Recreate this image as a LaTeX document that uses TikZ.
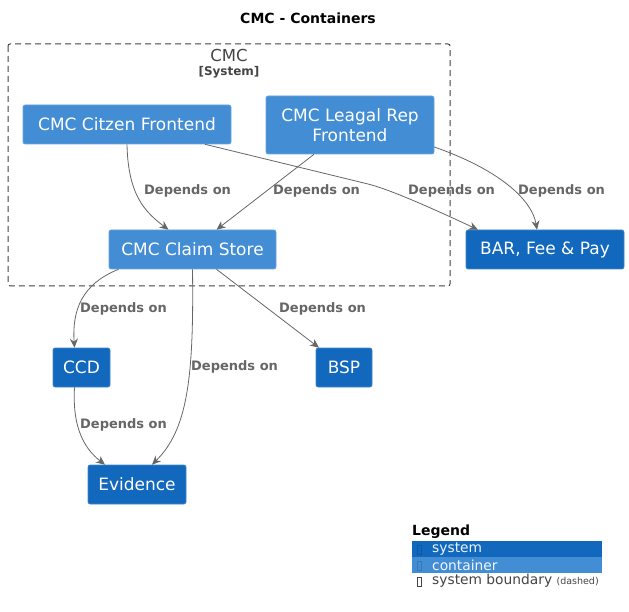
\documentclass[tikz,border=0pt]{standalone}
\usepackage{fontspec}
\setmainfont{DejaVu Sans}
\usetikzlibrary{arrows.meta}
\definecolor{cont}{HTML}{438DD5}
\definecolor{sys}{HTML}{1168BD}
\definecolor{edgec}{HTML}{666666}
\definecolor{txtc}{HTML}{444444}
\begin{document}
\begin{tikzpicture}[x=1pt,y=-1pt,
  box/.style={rounded corners=2pt, text=white, font=\fontsize{17}{20}\selectfont, align=center, inner sep=0pt, line width=0.6pt},
  contbox/.style={box, fill=cont, draw=cont!80!white},
  sysbox/.style={box, fill=sys, draw=sys!80!white},
  rel/.style={draw=edgec, line width=0.8pt, -{Stealth[length=9pt,width=8pt]}},
  lbl/.style={anchor=west, text=edgec, font=\bfseries\fontsize{13}{15}\selectfont, inner sep=0pt},
  legtxt/.style={anchor=west, font=\fontsize{13.8}{16}\selectfont, inner sep=0pt}]
\useasboundingbox (0,0) rectangle (629,612);
\node[font=\bfseries\fontsize{14}{16}\selectfont] (title) at (308,18) {CMC - Containers};
% boundary
\draw[dash pattern=on 6pt off 4pt, draw=black!75, line width=1pt, rounded corners=2pt] (8,44) rectangle (450,286);
\node[text=txtc, font=\fontsize{16.5}{18}\selectfont] (bname) at (229,55) {CMC};
\node[text=txtc, font=\bfseries\fontsize{12}{14}\selectfont] (btype) at (229,72) {[System]};
% nodes
\node[contbox, minimum width=208pt, minimum height=39pt] (cit) at (127,124.5) {CMC Citzen Frontend};
\node[contbox, minimum width=168pt, minimum height=58pt] (leg) at (350,125) {CMC Leagal Rep\\Frontend};
\node[contbox, minimum width=167pt, minimum height=39pt] (cs) at (192.5,249.5) {CMC Claim Store};
\node[sysbox, minimum width=158pt, minimum height=39pt] (bar) at (545,249.5) {BAR, Fee \& Pay};
\node[sysbox, minimum width=57pt, minimum height=39pt] (ccd) at (81.5,367.5) {CCD};
\node[sysbox, minimum width=56pt, minimum height=39pt] (bsp) at (344,367.5) {BSP};
\node[sysbox, minimum width=98pt, minimum height=39pt] (ev) at (137,484.5) {Evidence};
% edges
\draw[rel] (cit.south) .. controls (128,195) and (145,212) .. ([xshift=-24pt]cs.north);
\draw[rel] ([xshift=78pt]cit.south) -- (368,184) .. controls (392,190) and (440,212) .. ([xshift=-67pt]bar.north);
\draw[rel] ([xshift=-36pt]leg.south) -- ([xshift=24pt]cs.north);
\draw[rel] ([yshift=-22pt]leg.east) .. controls (500,170) and (532,200) .. ([xshift=-8pt]bar.north);
\draw[rel] ([xshift=-74pt]cs.south) .. controls (82,284) and (72,310) .. ([xshift=-7pt]ccd.north);
\draw[rel] (cs.south) .. controls (194,380) and (187,430) .. ([xshift=15pt]ev.north);
\draw[rel] ([xshift=24pt]cs.south) -- ([xshift=-25pt]bsp.north);
\draw[rel] ([xshift=-7pt]ccd.south) .. controls (72,430) and (86,450) .. ([xshift=-32pt]ev.north);
% labels
\node[lbl] (l1) at (144,191) {Depends on};
\node[lbl] (l2) at (273,191) {Depends on};
\node[lbl] (l3) at (408,191) {Depends on};
\node[lbl] (l4) at (518,191) {Depends on};
\node[lbl] (l5) at (80,309) {Depends on};
\node[lbl] (l6) at (279,309) {Depends on};
\node[lbl] (l7) at (191,367) {Depends on};
\node[lbl] (l8) at (80,425) {Depends on};
% legend
\node[anchor=west, inner sep=0pt, font=\bfseries\fontsize{14}{16}\selectfont] (legt) at (412,532) {Legend};
\fill[sys] (412,541) rectangle (602,557);
\fill[cont] (412,557) rectangle (602,573);
\draw[sys!85!black, line width=0.4pt] (417,545) rectangle (421,554);
\draw[cont!85!black, line width=0.4pt] (417,561) rectangle (421,570);
\draw[txtc, line width=0.4pt] (417,577) rectangle (421,586);
\node[legtxt, text=white!92!sys] (ls) at (432,549) {system};
\node[legtxt, text=white!92!cont] (lc) at (432,565) {container};
\node[legtxt, text=txtc] (lb) at (432,581) {system boundary {\fontsize{9.5}{11}\selectfont(dashed)}};
\end{tikzpicture}
\end{document}
